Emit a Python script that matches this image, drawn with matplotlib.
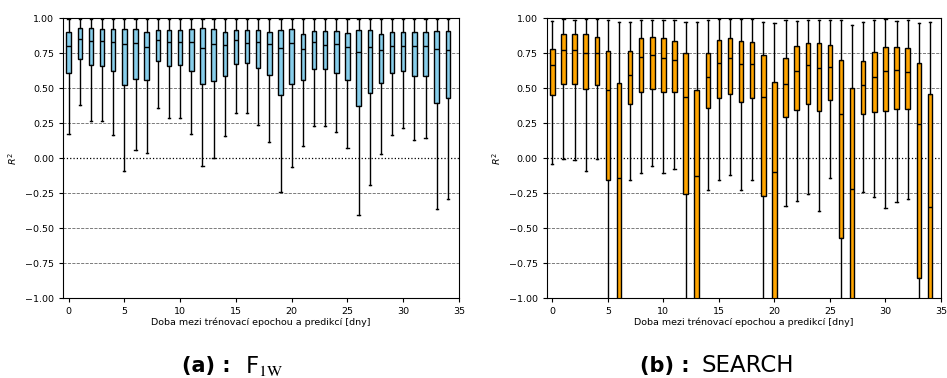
import matplotlib
matplotlib.use("Agg")
import matplotlib.pyplot as plt

# days between training epoch and prediction
days = list(range(35))

# panel (a): F_1W
f1w_whislo = [0.174, 0.381, 0.267, 0.267, 0.167, -0.093, 0.057, 0.040, 0.360, 0.286,
              0.286, 0.171, -0.052, 0.000, 0.157, 0.326, 0.326, 0.238, 0.119, -0.238,
              -0.062, 0.086, 0.229, 0.231, 0.190, 0.071, -0.405, -0.193, 0.029, 0.164,
              0.217, 0.131, 0.148, -0.360, -0.290]
f1w_q1 = [0.607, 0.712, 0.664, 0.657, 0.621, 0.521, 0.569, 0.557, 0.693, 0.662,
          0.667, 0.621, 0.531, 0.550, 0.586, 0.671, 0.681, 0.645, 0.593, 0.455,
          0.529, 0.560, 0.640, 0.638, 0.610, 0.560, 0.374, 0.469, 0.536, 0.610,
          0.624, 0.586, 0.588, 0.395, 0.431]
f1w_med = [0.805, 0.852, 0.840, 0.840, 0.833, 0.814, 0.826, 0.798, 0.848, 0.829,
           0.833, 0.831, 0.790, 0.817, 0.807, 0.843, 0.826, 0.833, 0.819, 0.788,
           0.821, 0.783, 0.829, 0.807, 0.817, 0.793, 0.757, 0.793, 0.771, 0.802,
           0.805, 0.802, 0.800, 0.781, 0.771]
f1w_q3 = [0.905, 0.933, 0.933, 0.926, 0.924, 0.926, 0.926, 0.900, 0.919, 0.917,
          0.919, 0.924, 0.933, 0.921, 0.905, 0.914, 0.914, 0.919, 0.905, 0.919,
          0.921, 0.888, 0.912, 0.910, 0.910, 0.898, 0.919, 0.919, 0.886, 0.905,
          0.900, 0.900, 0.900, 0.907, 0.912]
f1w_whishi = [0.996] * 35

# panel (b): SEARCH  (values below -1 are off the chart)
search_whislo = [-0.040, -0.002, -0.014, -0.088, -0.005, -1.60, -1.80, -0.155, -0.105, -0.057,
                 -0.107, -0.079, -1.60, -1.80, -0.224, -0.152, -0.119, -0.224, -0.157, -1.60,
                 -1.80, -0.338, -0.302, -0.255, -0.376, -0.143, -1.60, -1.80, -0.238, -0.274,
                 -0.355, -0.312, -0.290, -1.60, -1.80]
search_q1 = [0.452, 0.531, 0.531, 0.498, 0.521, -0.157, -1.30, 0.390, 0.471, 0.495,
             0.476, 0.476, -0.257, -1.30, 0.357, 0.431, 0.462, 0.400, 0.429, -0.271,
             -1.30, 0.298, 0.348, 0.386, 0.336, 0.419, -0.571, -1.30, 0.314, 0.331,
             0.336, 0.350, 0.352, -0.855, -1.30]
search_med = [0.664, 0.774, 0.771, 0.755, 0.752, 0.486, -0.143, 0.593, 0.721, 0.740,
              0.719, 0.700, 0.438, -0.129, 0.579, 0.683, 0.717, 0.671, 0.674, 0.436,
              -0.098, 0.531, 0.624, 0.664, 0.643, 0.655, 0.314, -0.219, 0.524, 0.583,
              0.626, 0.633, 0.614, 0.248, -0.350]
search_q3 = [0.783, 0.890, 0.890, 0.890, 0.869, 0.769, 0.536, 0.769, 0.857, 0.864,
             0.862, 0.840, 0.752, 0.490, 0.750, 0.843, 0.857, 0.840, 0.829, 0.736,
             0.543, 0.719, 0.805, 0.821, 0.826, 0.807, 0.705, 0.505, 0.693, 0.760,
             0.793, 0.795, 0.786, 0.679, 0.462]
search_whishi = [0.983, 0.995, 0.986, 0.995, 0.993, 0.986, 0.976, 0.971, 0.990, 0.990,
                 0.990, 0.990, 0.971, 0.976, 0.986, 0.995, 0.993, 0.993, 0.993, 0.976,
                 0.967, 0.986, 0.981, 0.986, 0.990, 0.988, 0.988, 0.952, 0.976, 0.986,
                 0.993, 0.979, 0.986, 0.969, 0.971]

yticks = [-1.0, -0.75, -0.5, -0.25, 0.0, 0.25, 0.5, 0.75, 1.0]
xticks = [0, 5, 10, 15, 20, 25, 30, 35]
xlabel = "Doba mezi trénovací epochou a predikcí [dny]"


def make_stats(lo, q1, med, q3, hi):
    return [dict(whislo=a, q1=b, med=c, q3=d, whishi=e, fliers=[])
            for a, b, c, d, e in zip(lo, q1, med, q3, hi)]


def draw_panel(ax, stats, color):
    for v in yticks[1:-1]:
        if v == 0:
            ax.axhline(v, color="black", linestyle=":", linewidth=0.9, zorder=1)
        else:
            ax.axhline(v, color="0.4", linestyle="--", linewidth=0.6, zorder=1)
    ax.bxp(stats, positions=days, widths=0.4, capwidths=0.2, patch_artist=True,
           showfliers=False,
           boxprops=dict(facecolor=color, edgecolor="black", linewidth=1.0),
           medianprops=dict(color="black", linewidth=1.0),
           whiskerprops=dict(color="black", linewidth=1.0),
           capprops=dict(color="black", linewidth=1.0))
    ax.set_xlim(-0.5, 35)
    ax.set_ylim(-1, 1)
    ax.set_xticks(xticks)
    ax.set_xticklabels([str(t) for t in xticks])
    ax.set_yticks(yticks)
    ax.set_yticklabels([f"{t:.2f}".replace("-", "\u2212") for t in yticks])
    ax.tick_params(labelsize=6.8, length=3, width=0.8)
    ax.set_xlabel(xlabel, fontsize=6.8, labelpad=1)
    ax.set_ylabel("$R^2$", fontsize=6.8, labelpad=4)


fig = plt.figure(figsize=(9.47, 3.78), dpi=100)
W, H = 947, 378
ax_a = fig.add_axes([63 / W, 1 - 298.3 / H, (459 - 63) / W, 280 / H])
ax_b = fig.add_axes([546.8 / W, 1 - 298.3 / H, (941 - 546.8) / W, 280 / H])

draw_panel(ax_a, make_stats(f1w_whislo, f1w_q1, f1w_med, f1w_q3, f1w_whishi), "skyblue")
draw_panel(ax_b, make_stats(search_whislo, search_q1, search_med, search_q3, search_whishi), "orange")

cap_y = 1 - 366 / H
fig.text(231 / W, cap_y, "(a) :", fontsize=15, fontweight="bold", ha="right", va="center")
fig.text(245 / W, cap_y, r"F$_{\mathrm{1W}}$", fontsize=16.5, ha="left", va="center",
         math_fontfamily="stix")
fig.text(690 / W, cap_y, "(b) :", fontsize=15, fontweight="bold", ha="right", va="center")
fig.text(701 / W, cap_y, "SEARCH", fontsize=16.5, ha="left", va="center")

fig.savefig("out.png", dpi=100)
